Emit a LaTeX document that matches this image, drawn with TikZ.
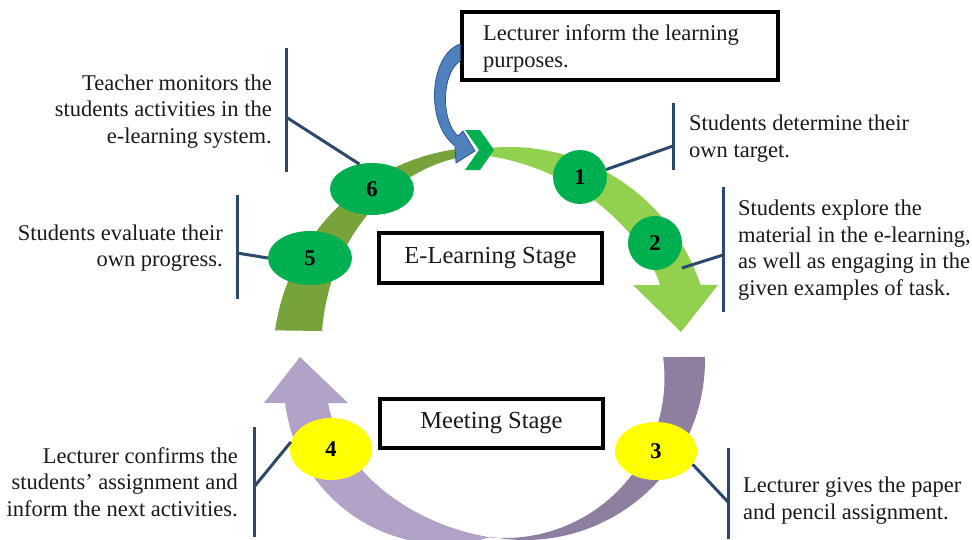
\documentclass[tikz,border=0pt]{standalone}
\usepackage{fontspec}
\setmainfont{Liberation Serif}
\usetikzlibrary{shapes.geometric}
\definecolor{bandDark}{HTML}{76A43A}
\definecolor{bandLight}{HTML}{92D050}
\definecolor{dotGreen}{HTML}{00B050}
\definecolor{purpleLight}{HTML}{B3A2C7}
\definecolor{purpleDark}{HTML}{8E7FA0}
\definecolor{dotYellow}{HTML}{FFFF00}
\definecolor{barBlue}{HTML}{2C486E}
\definecolor{arrowBlue}{HTML}{4F81BD}
\definecolor{arrowEdge}{HTML}{2F5597}
\definecolor{ink}{HTML}{1A1A1A}
\begin{document}
\begin{tikzpicture}[x=1pt,y=-1pt,
  txt/.style={inner sep=0pt, text=ink, font=\fontsize{22.5}{26.5}\selectfont},
  stagebox/.style={draw=black, line width=3.5pt, fill=white, inner sep=0pt, text=ink,
     font=\fontsize{24.5}{28}\selectfont},
  gdot/.style={ellipse, fill=dotGreen, inner sep=0pt, font=\fontsize{22.5}{26}\selectfont\bfseries},
  ydot/.style={ellipse, fill=dotYellow, inner sep=0pt, font=\fontsize{22.5}{26}\selectfont\bfseries},
  bar/.style={draw=barBlue, line width=3pt}]
\useasboundingbox (0,0) rectangle (972,539);

% upper (e-learning) bands
\fill[bandDark] plot[domain=-172:-94, samples=60] ({486+213*cos(\x)},{360+213*sin(\x)})
  -- (468,156) .. controls (400,165) and (330,230) .. (322,331) -- cycle;
\fill[bandLight] plot[domain=-95.5:-18.5, samples=60] ({509+202*cos(\x)},{349+202*sin(\x)})
  -- (718,285) -- (681,332) -- (633,285) -- (660,285)
  .. controls (648,245) and (590,172) .. (489,156) -- cycle;

% lower (meeting) bands
\fill[purpleDark] plot[domain=-1:101, samples=60] ({525+180*cos(\x)},{360+180*sin(\x)})
  -- plot[domain=95.2:-7.5, samples=60] ({504.5+160*cos(\x)},{378+160*sin(\x)}) -- cycle;
\fill[purpleLight] plot[domain=173.2:73.3, samples=60] ({444+160*cos(\x)},{384+160*sin(\x)})
  .. controls (415,525) and (342,475) .. (328,403) -- (348,403) -- (300,357) -- (264,403) -- cycle;

% chevron
\fill[dotGreen] (465,130) -- (480,130) -- (494,150) -- (480,170) -- (465,170) -- (479,150) -- cycle;

% boxes
\node[stagebox, minimum width=316, minimum height=68] (lec) at (620,46) {};
\node[txt, anchor=west, align=left] (lectxt) at (483,48.5)
  {Lecturer inform the learning\\purposes.};
\node[stagebox, minimum width=223, minimum height=50] (elb) at (490.5,258) {E-Learning Stage};
\node[stagebox, minimum width=223, minimum height=49] (msb) at (491.5,423.5) {Meeting Stage};

% blue curved arrow from the box to the chevron
\filldraw[fill=arrowBlue, draw=arrowEdge, line width=0.8pt]
  (lec.west |- 0,44) .. controls (430,54) and (424,122) .. (455,146)
  -- (456,163) -- (475,151) -- (463,131) -- (458,136)
  .. controls (440,120) and (442,72) .. (lec.west |- 0,61) -- cycle;

% numbered dots
\node[gdot, minimum width=54, minimum height=54] (c1) at (580,177) {1};
\node[gdot, minimum width=54, minimum height=54] (c2) at (655,243) {2};
\node[gdot, minimum width=84, minimum height=54] (c5) at (310,258) {5};
\node[gdot, minimum width=84, minimum height=52] (c6) at (372,189) {6};
\node[ydot, minimum width=82, minimum height=62] (c4) at (331,449) {4};
\node[ydot, minimum width=82, minimum height=58] (c3) at (656,451) {3};

% texts
\node[txt, anchor=east, align=right] (t6) at (272,111.5)
  {Teacher monitors the\\students activities in the\\e-learning system.};
\node[txt, anchor=east, align=right] (t5) at (223,248)
  {Students evaluate their\\own progress.};
\node[txt, anchor=east, align=right] (t4) at (238,482)
  {Lecturer confirms the\\students’ assignment and\\inform the next activities.};
\node[txt, anchor=west, align=left] (t1) at (689,138.5)
  {Students determine their\\own target.};
\node[txt, anchor=west, align=left] (t2) at (738,250)
  {Students explore the\\material in the e-learning,\\as well as engaging in the\\given examples of task.};
\node[txt, anchor=west, align=left] (t3) at (743,500.5)
  {Lecturer gives the paper\\and pencil assignment.};

% brackets and leader lines
\coordinate (j6) at (286,117);
\coordinate (j5) at (237,253);
\coordinate (j4) at (254,487);
\coordinate (j3) at (728,502);
\coordinate (j1) at (673,146);
\coordinate (j2) at (723,255);
\coordinate (p2) at (682,268);
\draw[bar] (286,48) -- (286,172);
\draw[bar] (j6) -- (c6.117);
\draw[bar] (237,195) -- (237,299);
\draw[bar] (j5) -- (c5.west);
\draw[bar] (254,427) -- (254,537);
\draw[bar] (j4) -- (c4.170);
\draw[bar] (728,448) -- (728,539);
\draw[bar] (j3) -- (c3.-20);
\draw[bar] (673,103) -- (673,170);
\draw[bar] (j1) -- (c1.16);
\draw[bar] (723,187) -- (723,312);
\draw[bar] (j2) -- (p2);
\end{tikzpicture}
\end{document}
